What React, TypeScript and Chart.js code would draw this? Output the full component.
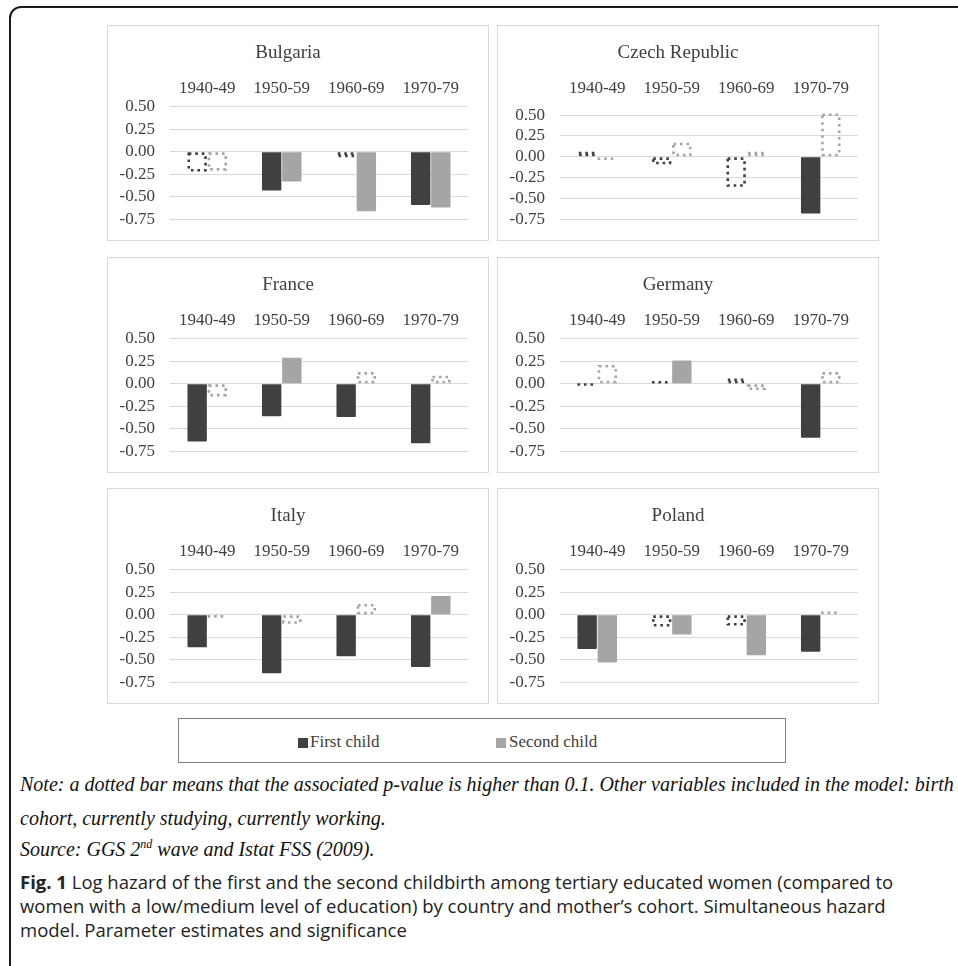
import React, { useEffect, useRef } from 'react';
import { Chart, registerables } from 'chart.js';

Chart.register(...registerables);

// ---------- data ----------
const CATEGORIES = ['1940-49', '1950-59', '1960-69', '1970-79'];
const Y_TICKS = [0.5, 0.25, 0, -0.25, -0.5, -0.75];

const BULGARIA_FIRST = [-0.22, -0.43, -0.06, -0.59];
const BULGARIA_SECOND = [-0.21, -0.33, -0.66, -0.62];
const BULGARIA_FIRST_SIG = [false, true, false, true];
const BULGARIA_SECOND_SIG = [false, true, true, true];

const CZECH_FIRST = [0.06, -0.09, -0.36, -0.68];
const CZECH_SECOND = [-0.04, 0.17, 0.06, 0.52];
const CZECH_FIRST_SIG = [false, false, false, true];
const CZECH_SECOND_SIG = [false, false, false, false];

const FRANCE_FIRST = [-0.64, -0.36, -0.37, -0.66];
const FRANCE_SECOND = [-0.14, 0.29, 0.13, 0.09];
const FRANCE_FIRST_SIG = [true, true, true, true];
const FRANCE_SECOND_SIG = [false, true, false, false];

const GERMANY_FIRST = [-0.01, 0.03, 0.06, -0.6];
const GERMANY_SECOND = [0.21, 0.26, -0.07, 0.13];
const GERMANY_FIRST_SIG = [false, false, false, true];
const GERMANY_SECOND_SIG = [false, true, false, false];

const ITALY_FIRST = [-0.36, -0.65, -0.46, -0.58];
const ITALY_SECOND = [-0.03, -0.1, 0.12, 0.21];
const ITALY_FIRST_SIG = [true, true, true, true];
const ITALY_SECOND_SIG = [false, false, false, true];

const POLAND_FIRST = [-0.38, -0.13, -0.12, -0.41];
const POLAND_SECOND = [-0.53, -0.22, -0.45, 0.04];
const POLAND_FIRST_SIG = [true, false, false, true];
const POLAND_SECOND_SIG = [true, true, true, false];

const Y_MIN = -0.75;
const Y_MAX_DEFAULT = 0.5;
const Y_MAX_CZECH = 0.6;

const SERIES_NAMES = ['First child', 'Second child'];

// ---------- style ----------
const SERIF = "'Liberation Serif', 'Times New Roman', serif";
const DARK = '#404040';
const LIGHT = '#a5a5a5';
const GRID = '#d9d9d9';

const dottedBars = {
  id: 'dottedBars',
  afterDatasetsDraw(chart: any) {
    const ctx = chart.ctx;
    chart.data.datasets.forEach((ds: any, di: number) => {
      const meta = chart.getDatasetMeta(di);
      const sig: boolean[] = ds.significance || [];
      meta.data.forEach((el: any, i: number) => {
        if (sig[i]) return;
        const p = el.getProps(['x', 'y', 'base', 'width'], true);
        const lw = 2.6;
        const left = p.x - p.width / 2 + lw / 2;
        const right = p.x + p.width / 2 - lw / 2;
        const top = Math.min(p.y, p.base);
        const bottom = Math.max(p.y, p.base);
        ctx.save();
        ctx.beginPath();
        ctx.strokeStyle = ds.dotColor;
        ctx.lineWidth = lw;
        ctx.lineCap = 'butt';
        ctx.setLineDash([2.6, 3.9]);
        if (bottom - top < lw * 1.6) {
          const mid = (top + bottom) / 2;
          ctx.moveTo(left - lw / 2, mid);
          ctx.lineTo(right + lw / 2, mid);
        } else {
          ctx.rect(left, top + lw / 2, right - left, bottom - top - lw);
        }
        ctx.stroke();
        ctx.restore();
      });
    });
  },
};

type PanelProps = {
  title: string;
  first: number[];
  second: number[];
  firstSig: boolean[];
  secondSig: boolean[];
  yMax: number;
  left: number;
  top: number;
};

function Panel({ title, first, second, firstSig, secondSig, yMax, left, top }: PanelProps) {
  const ref = useRef<HTMLCanvasElement | null>(null);
  useEffect(() => {
    if (!ref.current) return;
    const chart = new Chart(ref.current, {
      type: 'bar',
      data: {
        labels: CATEGORIES,
        datasets: [
          {
            label: SERIES_NAMES[0],
            data: first,
            backgroundColor: first.map((_, i) => (firstSig[i] ? DARK : 'rgba(0,0,0,0)')),
            borderWidth: 0,
            borderRadius: 1,
            categoryPercentage: 0.542,
            barPercentage: 0.96,
            significance: firstSig,
            dotColor: DARK,
          } as any,
          {
            label: SERIES_NAMES[1],
            data: second,
            backgroundColor: second.map((_, i) => (secondSig[i] ? LIGHT : 'rgba(0,0,0,0)')),
            borderWidth: 0,
            borderRadius: 1,
            categoryPercentage: 0.542,
            barPercentage: 0.96,
            significance: secondSig,
            dotColor: LIGHT,
          } as any,
        ],
      },
      options: {
        animation: false,
        responsive: false,
        maintainAspectRatio: false,
        layout: { padding: { left: 0, right: 20, bottom: 20.7, top: 0 } },
        plugins: {
          legend: { display: false },
          tooltip: { enabled: false },
          title: {
            display: true,
            text: title,
            color: DARK,
            font: { family: SERIF, size: 19, weight: 'normal' },
            padding: { top: 16, bottom: 0 },
          },
        },
        scales: {
          x: {
            position: 'top',
            grid: { display: false, drawTicks: false },
            border: { display: false },
            ticks: {
              color: DARK,
              font: { family: SERIF, size: 17 },
              padding: 8,
              maxRotation: 0,
              autoSkip: false,
            },
            afterFit: (s: any) => {
              s.height = 42;
            },
          },
          y: {
            min: Y_MIN,
            max: yMax,
            grid: {
              color: GRID,
              lineWidth: 1,
              drawTicks: true,
              tickLength: 15,
              tickColor: 'rgba(0,0,0,0)',
            },
            border: { display: false },
            ticks: {
              autoSkip: false,
              color: DARK,
              font: { family: SERIF, size: 17 },
              padding: 0,
              callback: (v: any) => Number(v).toFixed(2),
            },
            afterBuildTicks: (s: any) => {
              s.ticks = Y_TICKS.map((v) => ({ value: v }));
            },
            afterFit: (s: any) => {
              s.width = 62;
            },
          },
        },
      } as any,
      plugins: [dottedBars as any],
    });
    return () => chart.destroy();
  }, []);

  return (
    <div
      style={{
        position: 'absolute',
        left,
        top,
        width: 380,
        height: 214,
        border: `1px solid ${GRID}`,
        background: '#fff',
      }}
    >
      <canvas ref={ref} width={380} height={214} style={{ display: 'block', width: 380, height: 214 }} />
    </div>
  );
}

export default function App() {
  const noteStyle: React.CSSProperties = {
    position: 'absolute',
    left: 20,
    fontFamily: SERIF,
    fontStyle: 'italic',
    fontSize: 20,
    color: '#111',
    whiteSpace: 'nowrap',
    lineHeight: '20px',
  };
  const capStyle: React.CSSProperties = {
    position: 'absolute',
    left: 20,
    fontFamily: "'Open Sans', 'Noto Sans', sans-serif",
    fontSize: 18.5,
    color: '#222',
    whiteSpace: 'nowrap',
    lineHeight: '20px',
  };
  return (
    <div
      style={{
        position: 'absolute',
        left: 0,
        top: 0,
        width: 958,
        height: 966,
        overflow: 'hidden',
        background: '#fff',
      }}
    >
      <div
        style={{
          position: 'absolute',
          left: 9,
          top: 6,
          width: 1100,
          height: 1100,
          border: '2px solid #1a1a1a',
          borderTopLeftRadius: 12,
        }}
      />
      <Panel title="Bulgaria" first={BULGARIA_FIRST} second={BULGARIA_SECOND} firstSig={BULGARIA_FIRST_SIG} secondSig={BULGARIA_SECOND_SIG} yMax={Y_MAX_DEFAULT} left={107} top={25} />
      <Panel title="Czech Republic" first={CZECH_FIRST} second={CZECH_SECOND} firstSig={CZECH_FIRST_SIG} secondSig={CZECH_SECOND_SIG} yMax={Y_MAX_CZECH} left={497} top={25} />
      <Panel title="France" first={FRANCE_FIRST} second={FRANCE_SECOND} firstSig={FRANCE_FIRST_SIG} secondSig={FRANCE_SECOND_SIG} yMax={Y_MAX_DEFAULT} left={107} top={257} />
      <Panel title="Germany" first={GERMANY_FIRST} second={GERMANY_SECOND} firstSig={GERMANY_FIRST_SIG} secondSig={GERMANY_SECOND_SIG} yMax={Y_MAX_DEFAULT} left={497} top={257} />
      <Panel title="Italy" first={ITALY_FIRST} second={ITALY_SECOND} firstSig={ITALY_FIRST_SIG} secondSig={ITALY_SECOND_SIG} yMax={Y_MAX_DEFAULT} left={107} top={488} />
      <Panel title="Poland" first={POLAND_FIRST} second={POLAND_SECOND} firstSig={POLAND_FIRST_SIG} secondSig={POLAND_SECOND_SIG} yMax={Y_MAX_DEFAULT} left={497} top={488} />

      {/* shared legend */}
      <div
        style={{
          position: 'absolute',
          left: 178,
          top: 718,
          width: 606,
          height: 43,
          border: '1.5px solid #7f7f7f',
          background: '#fff',
        }}
      >
        <div style={{ position: 'absolute', left: 119, top: 19, width: 10, height: 10, background: DARK }} />
        <div style={{ position: 'absolute', left: 131, top: 12, fontFamily: SERIF, fontSize: 17, lineHeight: '22px', color: DARK, whiteSpace: 'nowrap' }}>
          {SERIES_NAMES[0]}
        </div>
        <div style={{ position: 'absolute', left: 317, top: 19, width: 10, height: 10, background: LIGHT }} />
        <div style={{ position: 'absolute', left: 330, top: 12, fontFamily: SERIF, fontSize: 17, lineHeight: '22px', color: DARK, whiteSpace: 'nowrap' }}>
          {SERIES_NAMES[1]}
        </div>
      </div>

      <div style={{ ...noteStyle, top: 774 }}>
        Note: a dotted bar means that the associated p-value is higher than 0.1. Other variables included in the model: birth
      </div>
      <div style={{ ...noteStyle, top: 808 }}>cohort, currently studying, currently working.</div>
      <div style={{ ...noteStyle, top: 839 }}>
        Source: GGS 2<sup style={{ fontSize: 12, lineHeight: 0 }}>nd</sup> wave and Istat FSS (2009).
      </div>

      <div style={{ ...capStyle, top: 872 }}>
        <b>Fig. 1</b> Log hazard of the first and the second childbirth among tertiary educated women (compared to
      </div>
      <div style={{ ...capStyle, top: 896 }}>
        women with a low/medium level of education) by country and mother’s cohort. Simultaneous hazard
      </div>
      <div style={{ ...capStyle, top: 920 }}>model. Parameter estimates and significance</div>
    </div>
  );
}
